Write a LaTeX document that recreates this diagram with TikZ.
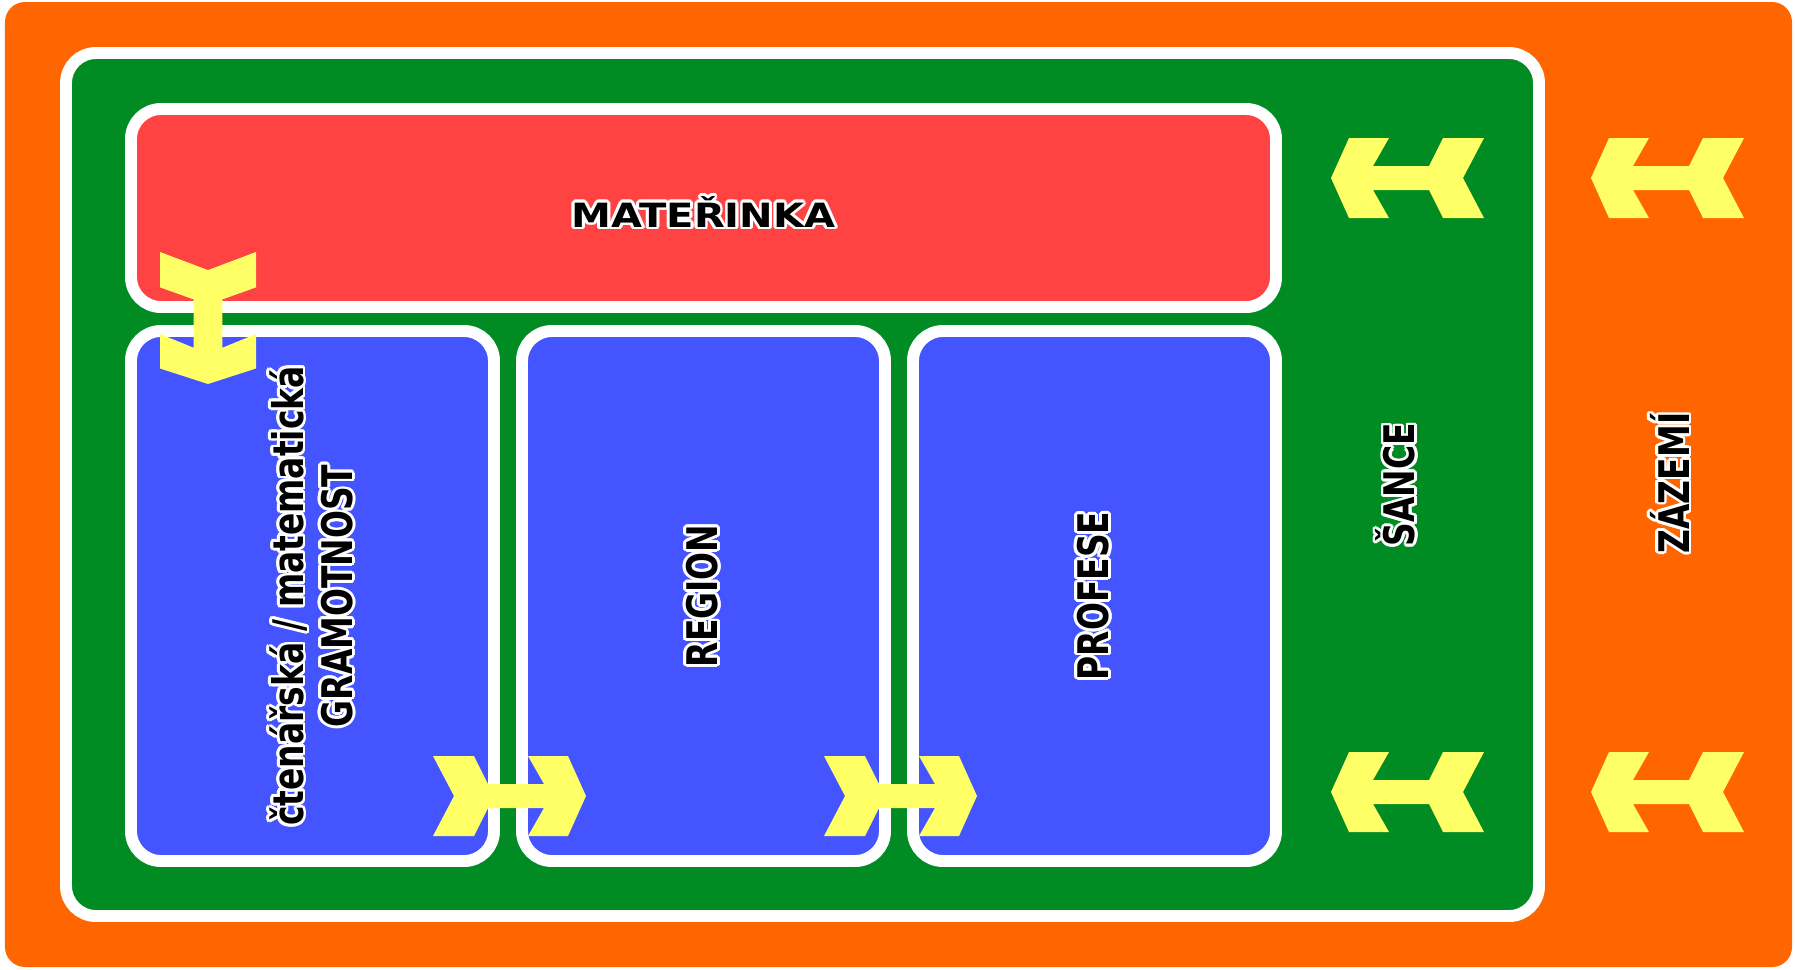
\documentclass[tikz,border=0pt]{standalone}
\usepackage{fontspec}
\setmainfont{DejaVu Sans}
\newfontfamily\slimfont{DejaVu Sans}[FakeStretch=0.78]
\newfontfamily\widefont{DejaVu Sans}[FakeStretch=1.2]
\usepackage[copies]{contour}
\contourlength{0.8pt}
\usepackage{tikz}
\usetikzlibrary{positioning}
\definecolor{zazemiOrange}{HTML}{FF6600}
\definecolor{sanceGreen}{HTML}{008C23}
\definecolor{materRed}{HTML}{FF4242}
\definecolor{fieldBlue}{HTML}{4455FF}
\definecolor{arrowYellow}{HTML}{FFFF66}
\newcommand{\outl}[1]{\contour{white}{#1}}

\begin{document}
\begin{tikzpicture}[
  area/.style={draw=white, line width=3.4pt, rounded corners=0.3cm, outer sep=0pt, inner sep=0pt},
  field/.style={area, fill=fieldBlue, minimum width=3.63cm, minimum height=5.30cm},
  vlabel/.style={rotate=90, font=\slimfont\bfseries\fontsize{12}{14}\selectfont, align=center},
  fletch/.pic={\fill[arrowYellow] (0,0) -- (0.18,0.40) -- (0.58,0.40) -- (0.42,0.12)
    -- (0.98,0.12) -- (1.12,0.40) -- (1.53,0.40) -- (1.32,0) -- (1.53,-0.40)
    -- (1.12,-0.40) -- (0.98,-0.12) -- (0.42,-0.12) -- (0.58,-0.40) -- (0.18,-0.40) -- cycle;}
]
\fill[white] (0,0) rectangle (17.95,-9.69);

\node[fill=zazemiOrange, rounded corners=0.2cm, inner sep=0pt,
      minimum width=17.87cm, minimum height=9.65cm] (back) at (8.985,-4.845) {};
\node[area, fill=sanceGreen, minimum width=14.73cm, minimum height=8.63cm] (sance) at (8.025,-4.845) {};
\node[area, fill=materRed, minimum width=11.45cm, minimum height=1.98cm] (materinka) at (7.035,-2.08) {};

\node[field, anchor=north west] (gram) at (1.31,-3.31) {};
\node[field, right=0.28cm of gram] (region) {};
\node[field, right=0.28cm of region] (profese) {};

\node[font=\widefont\bfseries\fontsize{9.5}{11}\selectfont] (matertext)
  at ([yshift=-0.05cm]materinka.center) {\outl{MATEŘINKA}};
\node[vlabel] (gramtext) at (gram.center)
  {\outl{čtenářská / matematická}\\\outl{GRAMOTNOST}};
\node[vlabel] (regiontext) at (region.center) {\outl{REGION}};
\node[vlabel] (profesetext) at (profese.center) {\outl{PROFESE}};
\node[vlabel] (sancetext) at (13.97,-4.85) {\outl{ŠANCE}};
\node[vlabel] (zazemitext) at (16.71,-4.83) {\outl{ZÁZEMÍ}};

\pic at (13.31,-1.78) {fletch};
\pic at (15.91,-1.78) {fletch};
\pic at (13.31,-7.92) {fletch};
\pic at (15.91,-7.92) {fletch};
\pic[rotate=180] at (5.86,-7.96) {fletch};
\pic[rotate=180] at (9.77,-7.96) {fletch};
\pic[rotate=90, xscale=0.863, yscale=1.2] at (2.08,-3.84) {fletch};
\end{tikzpicture}
\end{document}
